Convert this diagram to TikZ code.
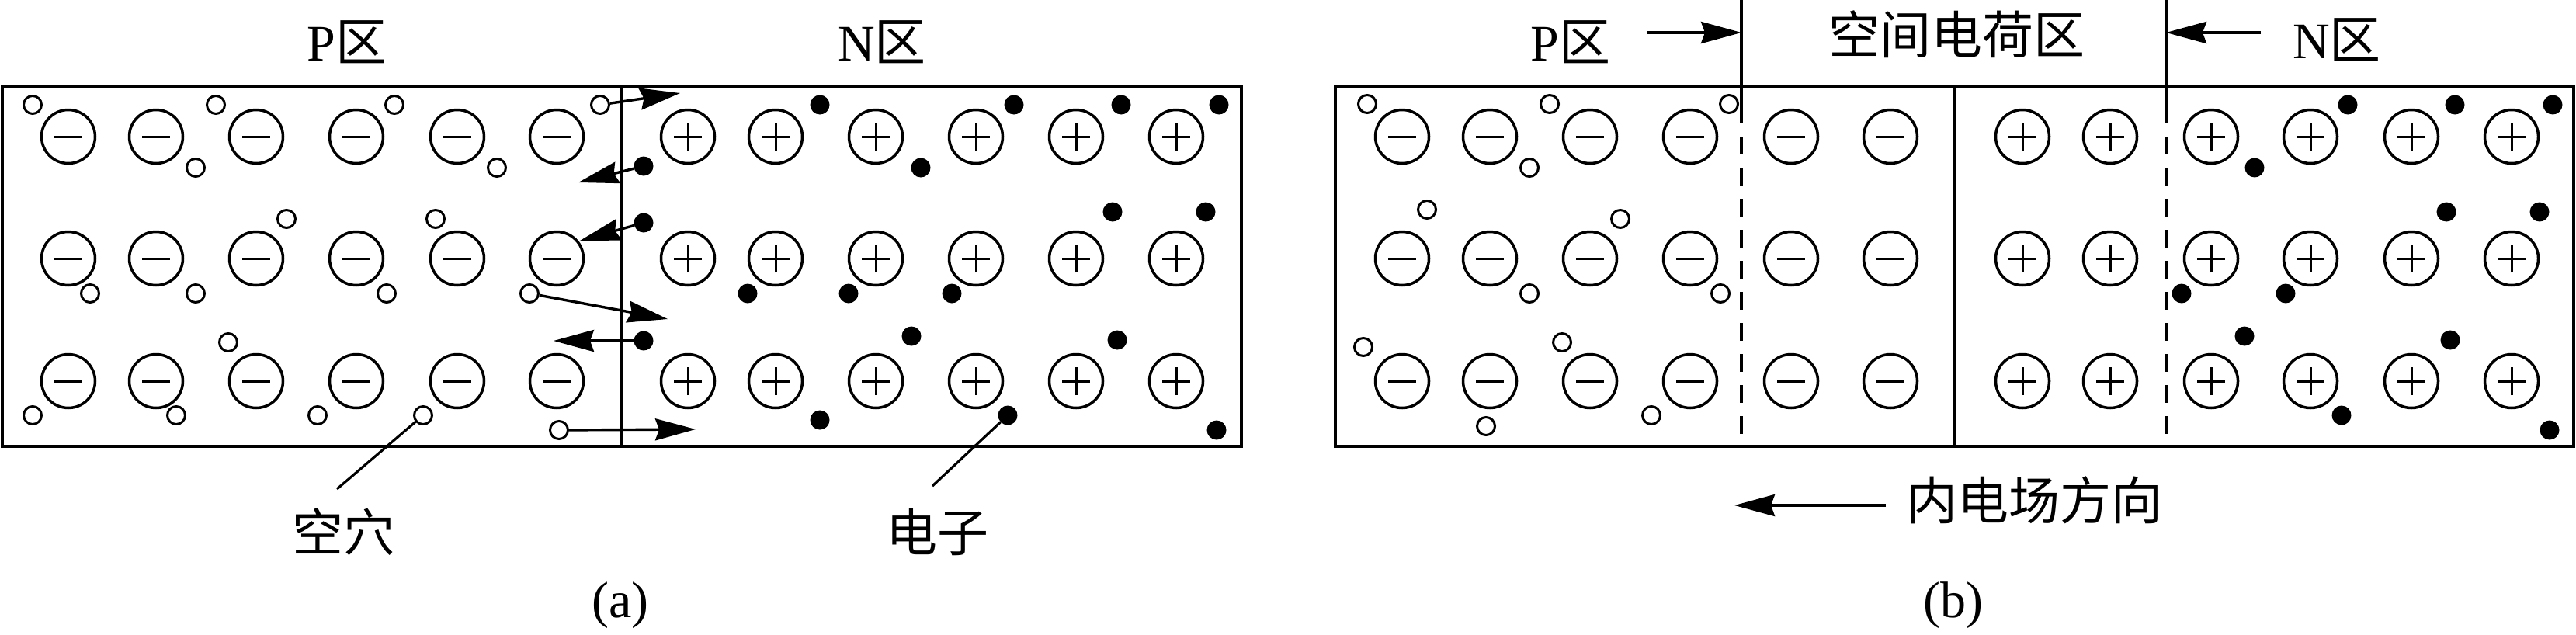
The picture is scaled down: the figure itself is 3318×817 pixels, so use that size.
\documentclass[tikz,border=0pt]{standalone}
\usepackage{fontspec}
\setmainfont{Liberation Serif}
\newfontfamily\cjk{Noto Sans CJK SC}
\usetikzlibrary{arrows.meta}
\tikzset{
  ionbase/.style={circle, draw, line width=3.5pt, minimum size=69pt, inner sep=0pt},
  negion/.style={ionbase, path picture={\draw[line width=3pt] ([xshift=-18pt]path picture bounding box.center) -- ([xshift=18pt]path picture bounding box.center);}},
  posion/.style={ionbase, path picture={\draw[line width=3pt] ([xshift=-18pt]path picture bounding box.center) -- ([xshift=18pt]path picture bounding box.center) ([yshift=-18pt]path picture bounding box.center) -- ([yshift=18pt]path picture bounding box.center);}},
  holedot/.style={circle, draw, line width=3pt, minimum size=23pt, inner sep=0pt},
  elecdot/.style={circle, fill, minimum size=25pt, inner sep=0pt},
  arr/.style={line width=3.4pt, -{Stealth[length=52pt, width=28pt, inset=5pt]}},
  lead/.style={line width=3.2pt},
  boxline/.style={line width=4.2pt},
  divider/.style={line width=3.4pt},
  dashdiv/.style={line width=3.2pt, dash pattern=on 23pt off 17pt},
  lbl/.style={font=\fontsize{66}{70}\selectfont, inner sep=0pt},
}
\begin{document}
\begin{tikzpicture}[x=1pt, y=-1pt]
\useasboundingbox (0,0) rectangle (3318,817);

% ---------------- panel (a) ----------------
\draw[boxline] (3,111) rectangle (1599,575);
\draw[divider] (800,111) -- (800,575);
\node[lbl] (pa) at (447,54) {P{\cjk 区}};
\node[lbl] (na) at (1136,54) {N{\cjk 区}};

\foreach \x [count=\i] in {88,201,330,459,589,717}
  \foreach \y [count=\j] in {176,333,491}
    \node[negion] (am\j\i) at (\x,\y) {};
\foreach \x [count=\i] in {886,999,1128,1257,1386,1515}
  \foreach \y [count=\j] in {176,333,491}
    \node[posion] (ap\j\i) at (\x,\y) {};

\foreach \p [count=\k] in {(42,135),(278,135),(508,135),(773,135),(252,216),(640,216),(369,282),(561,282),(116,378),(252,378),(498,378),(682,378),(294,441),(42,535),(227,535),(409,535),(545,535),(720,554)}
  \node[holedot] (ha\k) at \p {};

\foreach \p [count=\k] in {(829,214),(829,287),(829,439),(1056,135),(1306,135),(1444,135),(1570,135),(1186,216),(1433,273),(1553,273),(963,378),(1093,378),(1226,378),(1174,433),(1439,438),(1056,541),(1298,535),(1567,554)}
  \node[elecdot] (ea\k) at \p {};

\coordinate (ta1) at (876,120);
\coordinate (ta2) at (745,235);
\coordinate (ta3) at (747,310);
\coordinate (ta4) at (860,411);
\coordinate (ta5) at (713,439);
\coordinate (ta6) at (896,553);
\draw[arr] (ha4) -- (ta1);
\draw[arr] (ea1) -- (ta2);
\draw[arr] (ea2) -- (ta3);
\draw[arr] (ha12) -- (ta4);
\draw[arr] (ea3) -- (ta5);
\draw[arr] (ha18) -- (ta6);

\node[lbl] (kx) at (442,685) {\cjk 空穴};
\node[lbl] (dz) at (1207,685) {\cjk 电子};
\coordinate (la1) at (434,630);
\coordinate (la2) at (1201,626);
\draw[lead] (ha17) -- (la1);
\draw[lead] (ea17) -- (la2);
\node[lbl] (capa) at (799,780) {(a)};

% ---------------- panel (b) ----------------
\draw[boxline] (1720,111) rectangle (3315,575);
\draw[divider] (2518,111) -- (2518,575);
\draw[divider] (2243,0) -- (2243,136);
\draw[dashdiv] (2243,136) -- (2243,575);
\draw[divider] (2790,0) -- (2790,136);
\draw[dashdiv] (2790,136) -- (2790,575);

\node[lbl] (pb) at (2023,54) {P{\cjk 区}};
\node[lbl] (kj) at (2520,44) {\cjk 空间电荷区};
\node[lbl] (nb) at (3010,51) {N{\cjk 区}};
\coordinate (tb1s) at (2121,42);
\coordinate (tb1e) at (2243,42);
\coordinate (tb2s) at (2912,42);
\coordinate (tb2e) at (2790,42);
\draw[arr] (tb1s) -- (tb1e);
\draw[arr] (tb2s) -- (tb2e);

\foreach \x [count=\i] in {1806,1919,2048,2177,2307,2435}
  \foreach \y [count=\j] in {176,333,491}
    \node[negion] (bm\j\i) at (\x,\y) {};
\foreach \x [count=\i] in {2605,2718,2848,2976,3106,3235}
  \foreach \y [count=\j] in {176,333,491}
    \node[posion] (bp\j\i) at (\x,\y) {};

\foreach \p [count=\k] in {(1761,134),(1996,134),(2227,134),(1970,216),(1838,270),(2087,282),(1970,378),(2216,378),(1756,447),(2012,441),(1914,549),(2127,535)}
  \node[holedot] (hb\k) at \p {};

\foreach \p [count=\k] in {(3024,135),(3162,135),(3288,135),(2904,216),(3151,273),(3271,273),(2810,378),(2944,378),(2891,433),(3156,438),(3016,535),(3284,554)}
  \node[elecdot] (eb\k) at \p {};

\node[lbl, anchor=west] (field) at (2455,644) {\cjk 内电场方向};
\coordinate (fs) at (2429,651);
\coordinate (fe) at (2234,651);
\draw[arr] (fs) -- (fe);
\node[lbl] (capb) at (2516,780) {(b)};
\end{tikzpicture}
\end{document}
